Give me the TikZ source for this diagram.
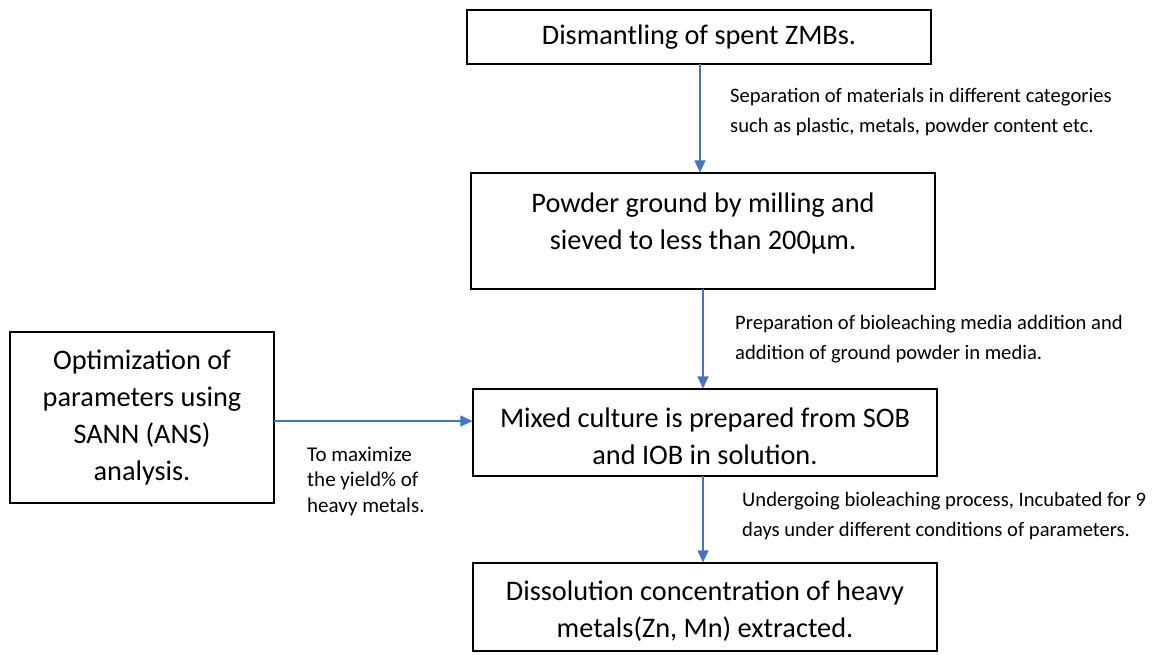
\documentclass[tikz,border=0pt]{standalone}
\usepackage{fontspec}
\setmainfont{Carlito}
\usetikzlibrary{arrows.meta}
\definecolor{arrowblue}{HTML}{4472C4}
\tikzset{
  box/.style={draw=black, line width=1.2pt, rectangle, minimum width=464pt, align=center, inner sep=0pt,
    font=\fontsize{28.3}{37}\selectfont},
  lbl/.style={anchor=base west, align=left, inner sep=0pt, font=\fontsize{20.6}{30}\selectfont},
  arr/.style={draw=arrowblue, line width=1.2pt, -{Triangle[length=12pt,width=11pt]}}
}
\begin{document}
\begin{tikzpicture}[x=1pt,y=-1pt]
\useasboundingbox (0,0) rectangle (1155,655);
\node[box, minimum height=54pt] (b1) at (699,37) {Dismantling of spent ZMBs.};
\node[box, minimum height=116pt] (b2) at (703,231) {Powder ground by milling and\\sieved to less than 200µm.\\[-18pt]\mbox{}};
\node[box, minimum height=87pt] (b3) at (705,432.5) {\mbox{}\\[-10pt]Mixed culture is prepared from SOB\\and IOB in solution.};
\node[box, minimum height=88pt] (b4) at (705,607) {\mbox{}\\[-10pt]Dissolution concentration of heavy\\metals(Zn, Mn) extracted.};
\node[box, minimum width=264pt, minimum height=171pt] (opt) at (142,417.5) {Optimization of\\parameters using\\SANN (ANS)\\analysis.};

\node[lbl] (l1) at (730,133) {Separation of materials in different categories\\such as plastic, metals, powder content etc.};
\node[lbl] (l2) at (735,359) {Preparation of bioleaching media addition and\\addition of ground powder in media.};
\node[lbl, font=\fontsize{21}{25.5}\selectfont] (l3) at (307,512) {To maximize\\the yield\% of\\heavy metals.};
\node[lbl] (l4) at (742,536) {Undergoing bioleaching process, Incubated for 9\\days under different conditions of parameters.};

\coordinate (a1s) at (700,64);
\coordinate (a2s) at (703,289);
\coordinate (a3s) at (703,476);
\coordinate (hs) at (274,421);
\draw[arr] (a1s) -- (a1s |- b2.north);
\draw[arr] (a2s) -- (a2s |- b3.north);
\draw[arr] (a3s) -- (a3s |- b4.north);
\draw[arr] (hs) -- (hs -| b3.west);
\end{tikzpicture}
\end{document}
